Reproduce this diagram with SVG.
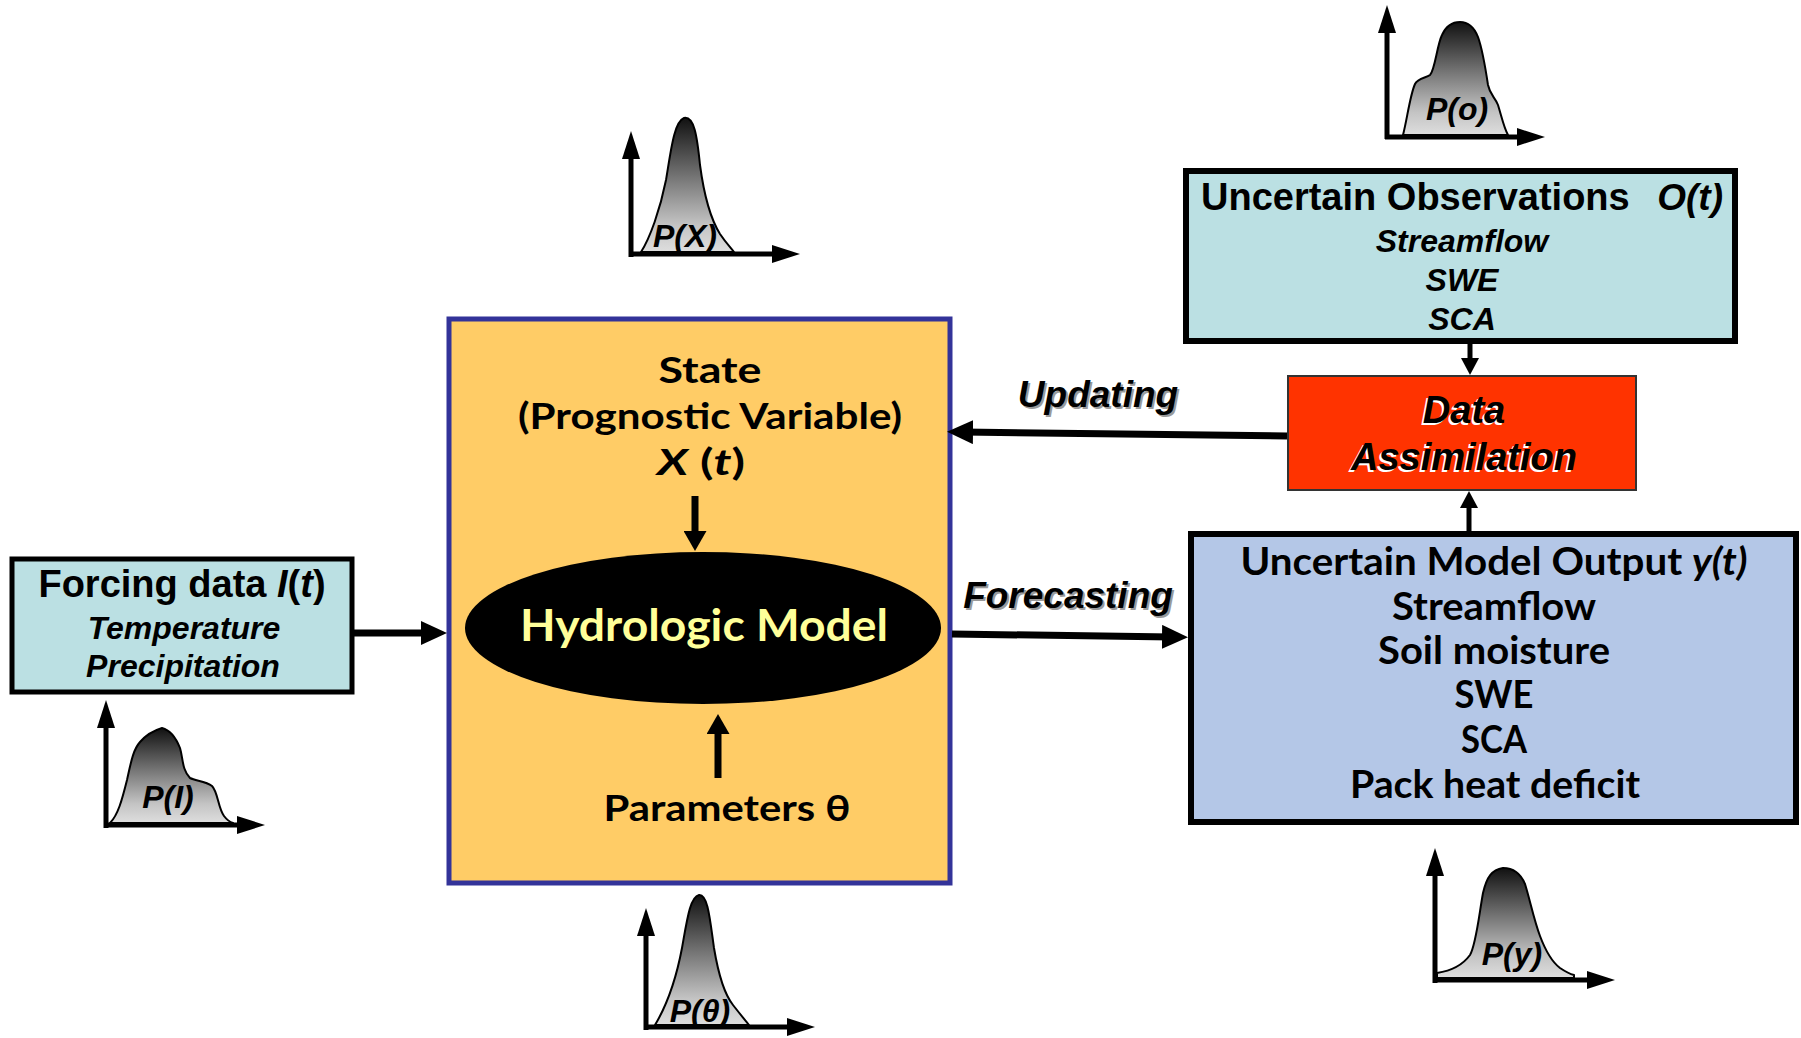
<svg xmlns="http://www.w3.org/2000/svg" width="1801" height="1038" viewBox="0 0 1801 1038">
  <defs>
    <style>
      .arial { font-family: "Liberation Sans", Arial, sans-serif; font-weight: bold; }
      .ital { font-style: italic; }
      .comic { font-family: Lato, "DejaVu Sans", sans-serif; font-weight: bold; fill: #000; }
      .calibri { font-family: Lato, "Liberation Sans", sans-serif; font-weight: bold; fill: #000; font-size: 39px; }
      .axis { stroke: #000; stroke-width: 5; fill: none; marker-end: url(#axisHead); }
      .conn { stroke: #000; stroke-width: 7; fill: none; marker-end: url(#connHead); }
      .inner { stroke: #000; stroke-width: 7; fill: none; marker-end: url(#innerHead); }
      .small { stroke: #000; stroke-width: 5; fill: none; marker-end: url(#smallHead); }
      .pdf { fill: url(#pdfGrad); stroke: #000; stroke-width: 2; stroke-linejoin: round; }
      .pdfLabel { font-family: "Liberation Sans", Arial, sans-serif; font-weight: bold; font-style: italic; font-size: 32px; fill: #000; }
      .shadowGray { fill: #9a9a9a; }
      .shadowWhite { fill: #ffffff; }
    </style>
    <linearGradient id="pdfGrad" x1="0" y1="0" x2="0" y2="1">
      <stop offset="0" stop-color="#111111"/>
      <stop offset="0.45" stop-color="#777777"/>
      <stop offset="0.8" stop-color="#c4c4c4"/>
      <stop offset="1" stop-color="#dedede"/>
    </linearGradient>
    <marker id="axisHead" markerUnits="userSpaceOnUse" viewBox="0 0 28 18" markerWidth="28" markerHeight="18" refX="10" refY="9" orient="auto">
      <path d="M0,0 L28,9 L0,18 Z" fill="#000"/>
    </marker>
    <marker id="connHead" markerUnits="userSpaceOnUse" viewBox="0 0 26 24" markerWidth="26" markerHeight="24" refX="10" refY="12" orient="auto">
      <path d="M0,0 L26,12 L0,24 Z" fill="#000"/>
    </marker>
    <marker id="innerHead" markerUnits="userSpaceOnUse" viewBox="0 0 20 23" markerWidth="20" markerHeight="23" refX="8" refY="11.5" orient="auto">
      <path d="M0,0 L20,11.5 L0,23 Z" fill="#000"/>
    </marker>
    <marker id="smallHead" markerUnits="userSpaceOnUse" viewBox="0 0 17 18" markerWidth="17" markerHeight="18" refX="6" refY="9" orient="auto">
      <path d="M0,0 L17,9 L0,18 Z" fill="#000"/>
    </marker>
  </defs>

  <rect x="0" y="0" width="1801" height="1038" fill="#ffffff"/>

  <!-- Forcing data -->
  <g id="forcing">
    <rect x="12" y="559" width="340" height="133" fill="#BBE0E3" stroke="#000" stroke-width="5"/>
    <text class="arial" x="182" y="597" font-size="38" text-anchor="middle">Forcing data <tspan class="ital">I</tspan>(<tspan class="ital">t</tspan>)</text>
    <text class="arial ital" x="184" y="639" font-size="32" text-anchor="middle">Temperature</text>
    <text class="arial ital" x="183" y="677" font-size="32" text-anchor="middle">Precipitation</text>
  </g>

  <!-- Hydrologic model block -->
  <g id="model">
    <rect x="449" y="319" width="501" height="564" fill="#FFCC66" stroke="#333399" stroke-width="5"/>
    <text class="comic" x="710" y="383" font-size="36" text-anchor="middle" textLength="103" lengthAdjust="spacingAndGlyphs">State</text>
    <text class="comic" x="710" y="429" font-size="36" text-anchor="middle" textLength="384" lengthAdjust="spacingAndGlyphs">(Prognostic Variable)</text>
    <text class="comic" x="701" y="475" font-size="36" text-anchor="middle" textLength="88" lengthAdjust="spacingAndGlyphs"><tspan font-style="italic">X</tspan> (<tspan font-style="italic">t</tspan>)</text>
    <ellipse cx="703" cy="628" rx="238" ry="76" fill="#000"/>
    <text class="comic" x="704" y="641" font-size="44" text-anchor="middle" style="fill:#FFFF99" textLength="368" lengthAdjust="spacingAndGlyphs">Hydrologic Model</text>
    <text class="comic" x="727" y="821" font-size="36" text-anchor="middle" textLength="247" lengthAdjust="spacingAndGlyphs">Parameters θ</text>
  </g>

  <!-- Observations -->
  <g id="observations">
    <rect x="1186" y="171" width="549" height="170" fill="#BBE0E3" stroke="#000" stroke-width="6"/>
    <text class="arial" x="1201" y="210" font-size="38">Uncertain Observations</text>
    <text class="arial ital" x="1723" y="210" font-size="37" text-anchor="end">O(t)</text>
    <text class="arial ital" x="1462" y="252" font-size="32" text-anchor="middle">Streamflow</text>
    <text class="arial ital" x="1462" y="291" font-size="32" text-anchor="middle">SWE</text>
    <text class="arial ital" x="1462" y="330" font-size="32" text-anchor="middle">SCA</text>
  </g>

  <!-- Data assimilation -->
  <g id="assimilation">
    <rect x="1288" y="376" width="348" height="114" fill="#FF3300" stroke="#333333" stroke-width="2"/>
    <text class="arial ital shadowWhite" x="1462" y="425" font-size="38" text-anchor="middle">Data</text>
    <text class="arial ital shadowWhite" x="1462" y="472" font-size="38" text-anchor="middle">Assimilation</text>
    <text class="arial ital" x="1464" y="423" font-size="38" text-anchor="middle">Data</text>
    <text class="arial ital" x="1464" y="470" font-size="38" text-anchor="middle">Assimilation</text>
  </g>

  <!-- Model output -->
  <g id="output">
    <rect x="1191" y="534" width="605" height="288" fill="#B4C7E7" stroke="#000" stroke-width="6"/>
    <text class="calibri" x="1494" y="575" text-anchor="middle" textLength="507" lengthAdjust="spacingAndGlyphs">Uncertain Model Output <tspan font-style="italic">y(t)</tspan></text>
    <text class="calibri" x="1494" y="620" text-anchor="middle" textLength="204" lengthAdjust="spacingAndGlyphs">Streamflow</text>
    <text class="calibri" x="1494" y="664" text-anchor="middle" textLength="232" lengthAdjust="spacingAndGlyphs">Soil moisture</text>
    <text class="calibri" x="1494" y="708" text-anchor="middle" textLength="79" lengthAdjust="spacingAndGlyphs">SWE</text>
    <text class="calibri" x="1494" y="753" text-anchor="middle" textLength="66" lengthAdjust="spacingAndGlyphs">SCA</text>
    <text class="calibri" x="1495" y="798" text-anchor="middle" textLength="290" lengthAdjust="spacingAndGlyphs">Pack heat deficit</text>
  </g>

  <!-- Probability density sketches -->
  <g id="pdf-x">
    <path class="pdf" d="M641,252 C650,238 660,210 666,180 C671,150 674,122 684,118 C694,116 697,135 700,165 C704,195 710,218 720,234 C726,243 731,248 734,252 Z"/>
    <line class="axis" x1="631" y1="257" x2="631" y2="149"/>
    <line class="axis" x1="629" y1="254" x2="782" y2="254"/>
    <text class="pdfLabel" x="685" y="247" text-anchor="middle">P(X)</text>
  </g>

  <g id="pdf-theta">
    <path class="pdf" d="M655,1025 C664,1010 675,985 682,948 C687,920 690,897 699,895 C708,894 710,920 714,948 C718,972 725,995 733,1005 C740,1014 745,1020 749,1025 Z"/>
    <line class="axis" x1="646" y1="1030" x2="646" y2="926"/>
    <line class="axis" x1="644" y1="1027" x2="797" y2="1027"/>
    <text class="pdfLabel" x="700" y="1022" text-anchor="middle">P(θ)</text>
  </g>

  <g id="pdf-o">
    <path class="pdf" d="M1403,135 C1407,120 1410,95 1415,84 C1418,78 1426,78 1430,75 C1435,70 1437,45 1442,35 C1446,26 1452,22 1460,22 C1468,22 1474,27 1478,37 C1482,48 1485,65 1488,85 C1490,95 1495,97 1498,105 C1502,118 1504,128 1508,135 Z"/>
    <line class="axis" x1="1387" y1="139" x2="1387" y2="23"/>
    <line class="axis" x1="1385" y1="137" x2="1527" y2="137"/>
    <text class="pdfLabel" x="1457" y="120" text-anchor="middle">P(o)</text>
  </g>

  <g id="pdf-i">
    <path class="pdf" d="M110,823 C118,815 122,800 127,780 C131,762 133,750 140,742 C146,735 152,731 162,728 C170,730 176,738 180,748 C183,758 182,770 190,778 C196,781 206,781 212,786 C218,792 218,808 224,816 C227,820 230,822 233,823 Z"/>
    <line class="axis" x1="106" y1="828" x2="106" y2="718"/>
    <line class="axis" x1="104" y1="825" x2="247" y2="825"/>
    <text class="pdfLabel" x="168" y="808" text-anchor="middle">P(I)</text>
  </g>

  <g id="pdf-y">
    <path class="pdf" d="M1437,973 C1450,971 1462,966 1470,955 C1476,945 1479,915 1483,893 C1487,876 1492,870 1503,868 C1512,868 1520,872 1525,884 C1530,900 1534,920 1540,936 C1546,952 1552,962 1560,968 C1566,972 1570,974 1574,975 L1574,978 L1437,978 Z"/>
    <line class="axis" x1="1435" y1="983" x2="1435" y2="866"/>
    <line class="axis" x1="1433" y1="980" x2="1597" y2="980"/>
    <text class="pdfLabel" x="1512" y="965" text-anchor="middle">P(y)</text>
  </g>

  <!-- Connectors -->
  <g id="connectors">
    <line class="conn" x1="353" y1="633" x2="431" y2="633"/>
    <line class="conn" x1="1287" y1="436" x2="963" y2="432"/>
    <line class="conn" x1="952" y1="634" x2="1172" y2="637"/>
    <line class="small" x1="1470" y1="344" x2="1470" y2="364"/>
    <line class="small" x1="1469" y1="532" x2="1469" y2="502"/>
    <line class="inner" x1="695" y1="496" x2="695" y2="539"/>
    <line class="inner" x1="718" y1="778" x2="718" y2="726"/>
  </g>

  <!-- Connector labels -->
  <g id="labels">
    <text class="arial ital shadowGray" x="1100" y="409" font-size="37" text-anchor="middle">Updating</text>
    <text class="arial ital" x="1098" y="407" font-size="37" text-anchor="middle">Updating</text>
    <text class="arial ital shadowGray" x="1070" y="610" font-size="37" text-anchor="middle">Forecasting</text>
    <text class="arial ital" x="1068" y="608" font-size="37" text-anchor="middle">Forecasting</text>
  </g>
</svg>
